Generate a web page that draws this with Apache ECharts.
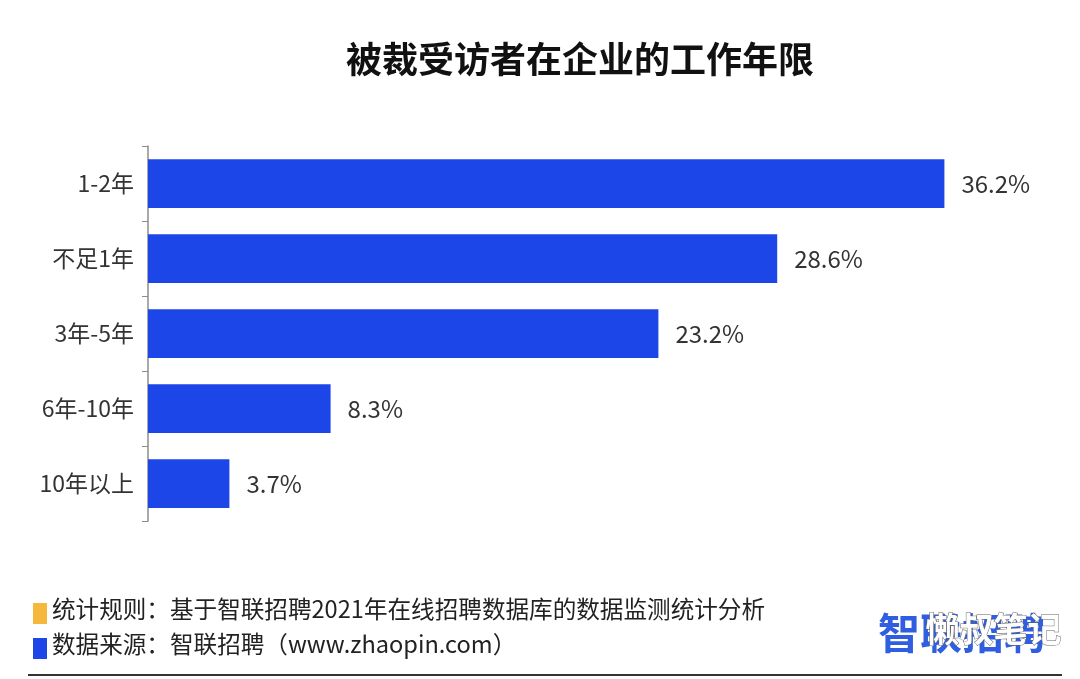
<!DOCTYPE html>
<html><head><meta charset="utf-8">
<script src="https://cdn.jsdelivr.net/npm/echarts@6/dist/echarts.min.js"></script>
<style>html,body{margin:0;padding:0;background:#fff}#c{width:1080px;height:679px}</style>
</head><body><div id="c"></div>
<script>
const titleText = '被裁受访者在企业的工作年限';
const categories = ['1-2年', '不足1年', '3年-5年', '6年-10年', '10年以上'];
const values = [36.2, 28.6, 23.2, 8.3, 3.7];
const noteRule = '统计规则：基于智联招聘2021年在线招聘数据库的数据监测统计分析';
const noteSource = '数据来源：智联招聘（www.zhaopin.com）';
const font = '"Noto Sans CJK SC", "Noto Sans", sans-serif';

const chart = echarts.init(document.getElementById('c'), null, {renderer: 'canvas'});
chart.setOption({
  backgroundColor: '#ffffff',
  animation: false,
  title: {
    text: titleText, left: 575, top: 36, textAlign: 'center',
    textStyle: {fontFamily: font, fontSize: 36, fontWeight: 'bold', color: '#111'}
  },
  grid: {left: 148, top: 146, width: 880, height: 375, containLabel: false},
  xAxis: {type: 'value', min: 0, max: 40, show: false},
  yAxis: {
    type: 'category', data: categories, inverse: true,
    axisLine: {show: true, lineStyle: {color: '#8c8c8c', width: 1.5}},
    axisTick: {show: true, length: 6, lineStyle: {color: '#8c8c8c'}},
    axisLabel: {fontFamily: font, fontSize: 23, color: '#333', margin: 14}
  },
  series: [{
    type: 'bar', data: values, barWidth: '65%',
    itemStyle: {color: '#1c46e8'},
    label: {show: true, position: 'right', distance: 17, formatter: '{c}%',
      fontFamily: font, fontSize: 24, color: '#333'}
  }],
  graphic: [
    {type: 'rect', shape: {x: 33, y: 603, width: 14, height: 21}, style: {fill: '#f5b83d'}},
    {type: 'text', left: 52, top: 597, style: {text: noteRule, font: '23.6px ' + font, fill: '#222'}},
    {type: 'rect', shape: {x: 33, y: 638, width: 14, height: 21}, style: {fill: '#1c46e8'}},
    {type: 'text', left: 52, top: 632, style: {text: noteSource, font: '23.6px ' + font, fill: '#222'}},
    {type: 'text', left: 878, top: 612, style: {text: '智联招聘', font: 'bold 42px ' + font, fill: '#2f5fe0'}},
    {type: 'text', left: 925, top: 612, style: {text: '懒叔笔记', font: 'bold 34px ' + font, fill: '#ffffff', stroke: '#666', lineWidth: 1}},
    {type: 'line', shape: {x1: 28, y1: 675, x2: 1062, y2: 675}, style: {stroke: '#333', lineWidth: 2}}
  ]
});
</script></body></html>
